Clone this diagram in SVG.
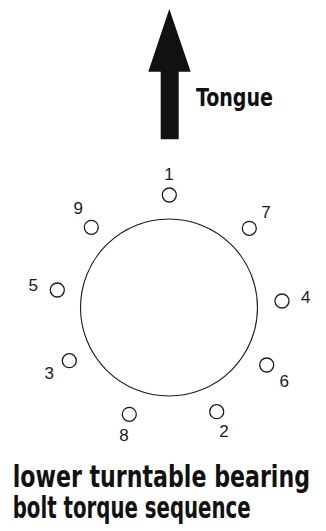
<svg xmlns="http://www.w3.org/2000/svg" width="326" height="531" viewBox="0 0 326 531">
<style>
.bolt{fill:none;stroke:#1a1a1a;stroke-width:1.3}
.num{font-family:"Liberation Sans",Arial,sans-serif;font-size:17px;fill:#1a1a1a;text-anchor:middle}
.title{font-family:"Liberation Sans Narrow","DejaVu Sans Condensed","Liberation Sans",sans-serif;font-weight:bold;fill:#111}
</style>
<rect width="326" height="531" fill="#fff"/>
<g id="arrow">
<polygon points="169.3,9 190.7,71.7 178.7,71.7 178.7,139.3 160.7,139.3 160.7,71.7 148.3,71.7" fill="#111"/>
<text class="title" x="196" y="106" font-size="25" textLength="77" lengthAdjust="spacingAndGlyphs">Tongue</text>
</g>
<g id="bearing">
<circle cx="169" cy="307.5" r="88.5" fill="none" stroke="#1a1a1a" stroke-width="1.1"/>
</g>
<g id="bolt1"><circle class="bolt" cx="169.3" cy="195" r="7"/><text class="num" x="169" y="180">1</text></g>
<g id="bolt2"><circle class="bolt" cx="216.7" cy="411.7" r="7"/><text class="num" x="224" y="437.3">2</text></g>
<g id="bolt3"><circle class="bolt" cx="69.3" cy="360.7" r="7"/><text class="num" x="49.3" y="379.3">3</text></g>
<g id="bolt4"><circle class="bolt" cx="282" cy="301" r="7"/><text class="num" x="305.7" y="303.3">4</text></g>
<g id="bolt5"><circle class="bolt" cx="57.3" cy="290" r="7"/><text class="num" x="33.3" y="290.5">5</text></g>
<g id="bolt6"><circle class="bolt" cx="266.7" cy="365" r="7"/><text class="num" x="284.3" y="386.7">6</text></g>
<g id="bolt7"><circle class="bolt" cx="249.3" cy="228.3" r="7"/><text class="num" x="266" y="218.3">7</text></g>
<g id="bolt8"><circle class="bolt" cx="129.3" cy="414.3" r="7"/><text class="num" x="124" y="440.7">8</text></g>
<g id="bolt9"><circle class="bolt" cx="91.3" cy="227.3" r="7"/><text class="num" x="78.3" y="214.3">9</text></g>
<g id="caption">
<text class="title" x="12.7" y="487.3" font-size="30" textLength="297.3" lengthAdjust="spacingAndGlyphs">lower turntable bearing</text>
<text class="title" x="12.7" y="518.3" font-size="30" textLength="238" lengthAdjust="spacingAndGlyphs">bolt torque sequence</text>
</g>
</svg>
